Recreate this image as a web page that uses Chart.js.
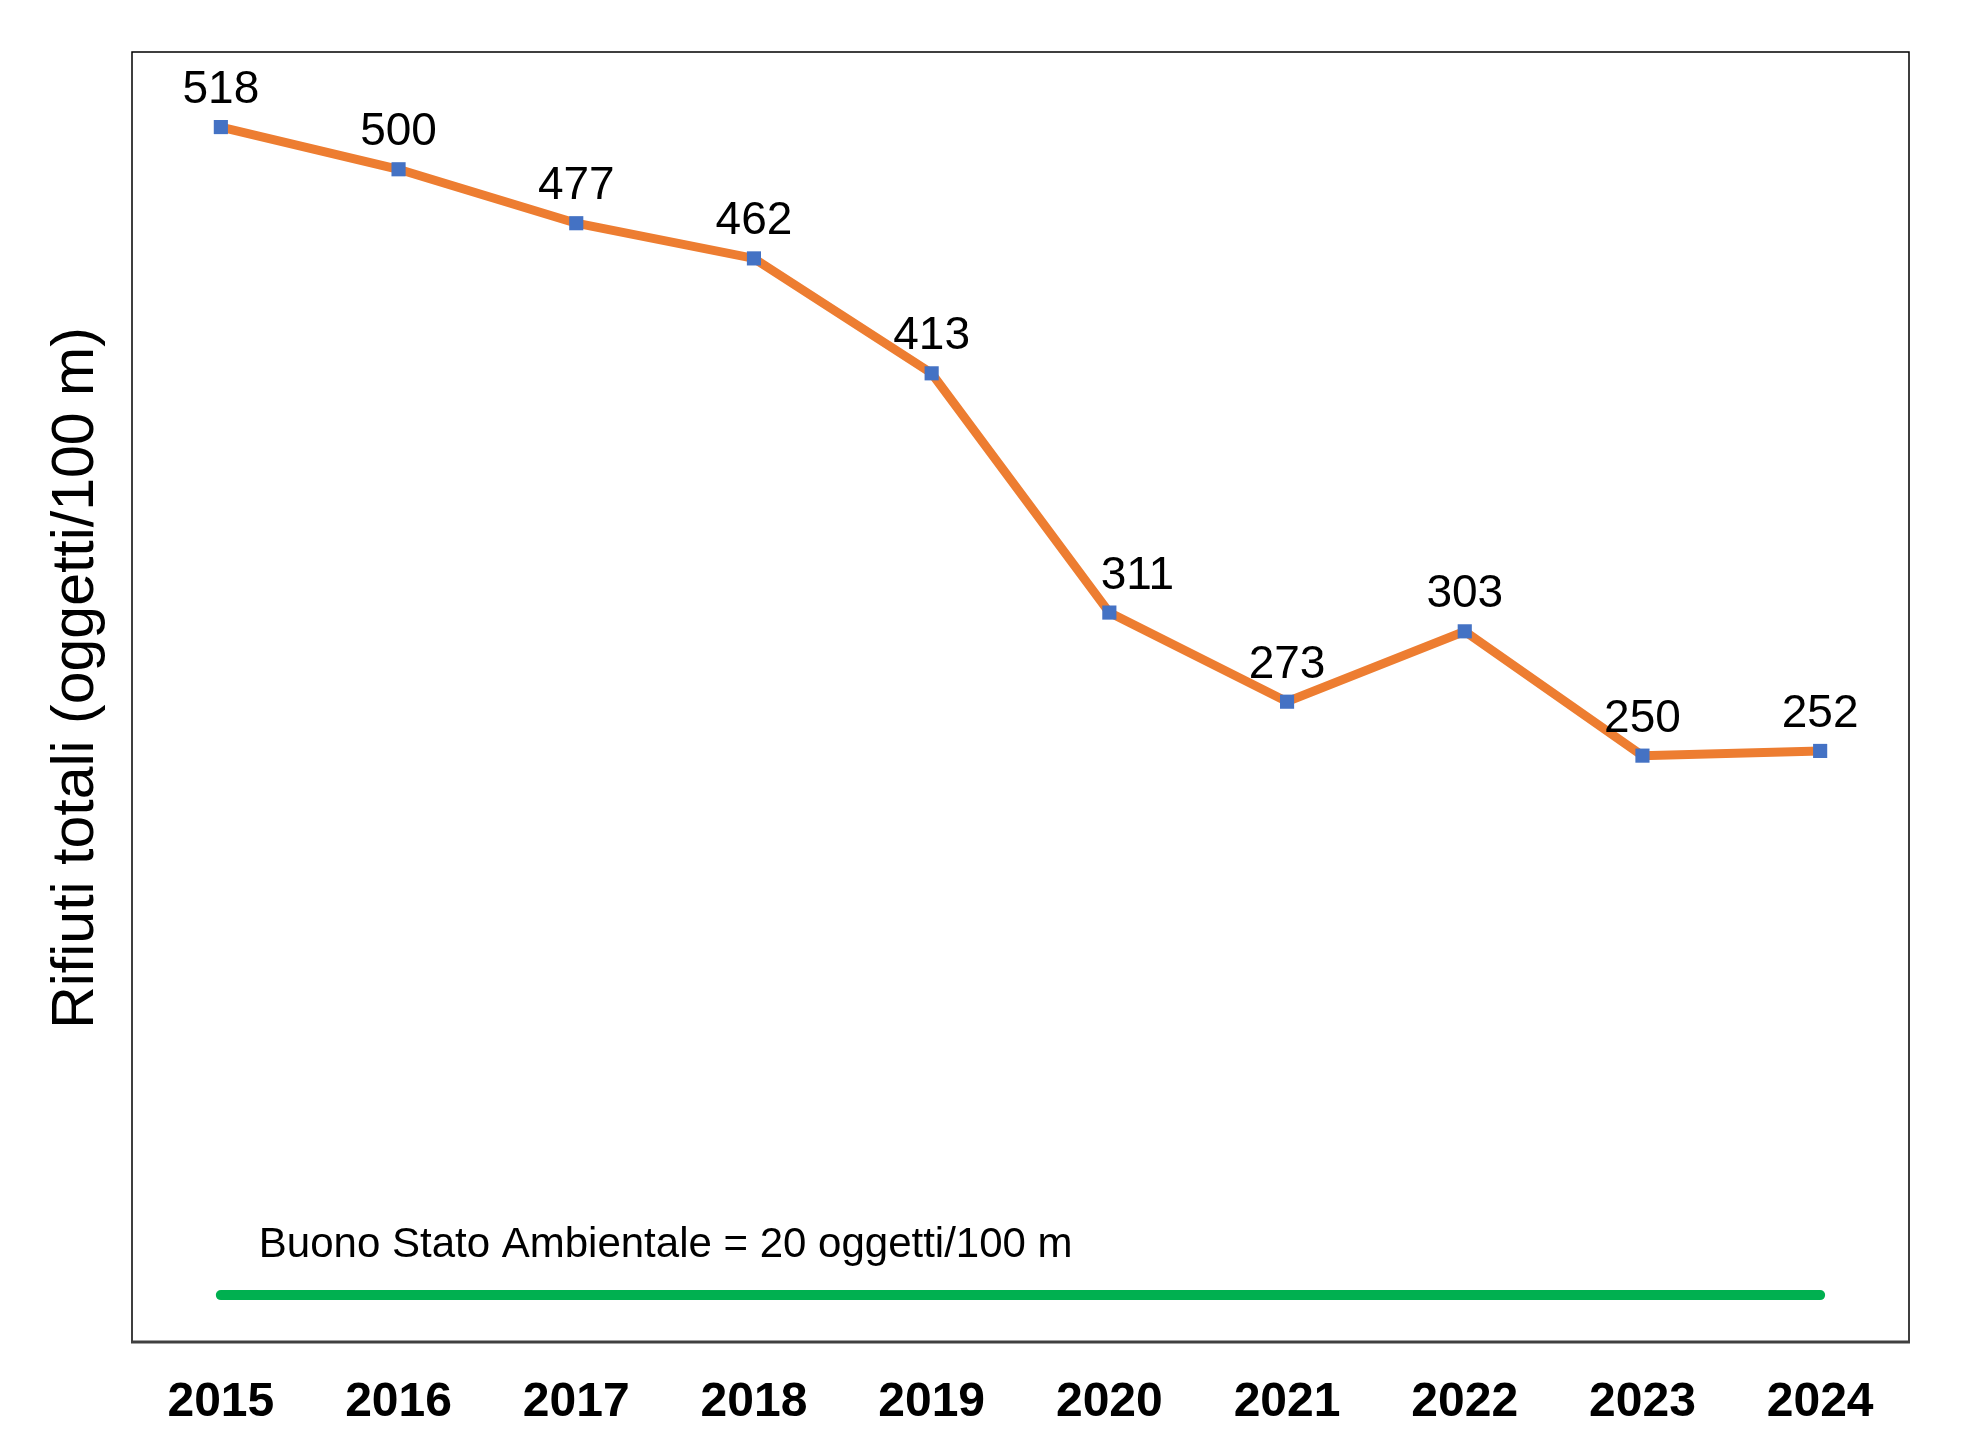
<!DOCTYPE html>
<html>
<head>
<meta charset="utf-8">
<script src="https://cdn.jsdelivr.net/npm/chart.js@4"></script>
<style>
  body { margin: 0; background: #fff; }
  canvas { display: block; }
</style>
</head>
<body>
<canvas id="chart" width="1969" height="1455"></canvas>
<script>
// data
const years = ['2015', '2016', '2017', '2018', '2019', '2020', '2021', '2022', '2023', '2024'];
const rifiuti = [518, 500, 477, 462, 413, 311, 273, 303, 250, 252];
const buonoStato = [20, 20, 20, 20, 20, 20, 20, 20, 20, 20];
const yTitle = 'Rifiuti totali (oggetti/100 m)';
const noteText = 'Buono Stato Ambientale = 20 oggetti/100 m';

const FONT = '"Liberation Sans", Arial, sans-serif';

// value labels above the points, axis title, note and the frame
const extras = {
  id: 'extras',
  afterDatasetsDraw(chart) {
    const ctx = chart.ctx;
    const meta = chart.getDatasetMeta(0);
    ctx.save();
    ctx.fillStyle = '#000';
    ctx.font = '46px ' + FONT;
    ctx.textAlign = 'center';
    ctx.textBaseline = 'alphabetic';
    meta.data.forEach((pt, i) => {
      // the 2020 label sits a bit to the right of its point in the original
      const dx = i === 5 ? 28 : 0;
      ctx.fillText(String(rifiuti[i]), pt.x + dx, pt.y - 24);
    });

    // note above the green line
    const xs = chart.scales.x, ys = chart.scales.y;
    ctx.font = '42px ' + FONT;
    ctx.textAlign = 'left';
    ctx.fillText(noteText, xs.getPixelForValue(0) + 38, ys.getPixelForValue(20) - 38);

    // y axis title
    ctx.font = '59px ' + FONT;
    ctx.textAlign = 'center';
    ctx.translate(93, 678);
    ctx.rotate(-Math.PI / 2);
    ctx.fillText(yTitle, 0, 0);
    ctx.restore();
  },
  afterDraw(chart) {
    const a = chart.chartArea;
    const ctx = chart.ctx;
    ctx.save();
    ctx.strokeStyle = '#000';
    ctx.lineWidth = 1.5;
    ctx.beginPath();
    ctx.moveTo(a.left, a.bottom);
    ctx.lineTo(a.left, a.top);
    ctx.lineTo(a.right, a.top);
    ctx.lineTo(a.right, a.bottom);
    ctx.stroke();
    ctx.strokeStyle = '#404040';
    ctx.lineWidth = 3;
    ctx.beginPath();
    ctx.moveTo(a.left - 1, a.bottom);
    ctx.lineTo(a.right + 1, a.bottom);
    ctx.stroke();
    ctx.restore();
  }
};

new Chart(document.getElementById('chart'), {
  type: 'line',
  data: {
    labels: years,
    datasets: [{
      label: 'Rifiuti totali',
      data: rifiuti,
      borderColor: '#ED7D31',
      borderWidth: 9,
      tension: 0,
      pointStyle: 'rect',
      pointRadius: 10,
      pointBackgroundColor: '#4472C4',
      pointBorderWidth: 0
    }, {
      label: 'Buono Stato Ambientale',
      data: buonoStato,
      borderColor: '#00B050',
      borderWidth: 10,
      borderCapStyle: 'round',
      pointRadius: 0,
      tension: 0
    }]
  },
  options: {
    responsive: false,
    devicePixelRatio: 1,
    animation: false,
    layout: { padding: { top: 52, right: 60, left: 0, bottom: 0 } },
    plugins: {
      legend: { display: false },
      tooltip: { enabled: false }
    },
    scales: {
      x: {
        offset: true,
        grid: { display: false, drawTicks: false },
        border: { display: false },
        ticks: {
          color: '#000',
          padding: 32,
          font: { family: FONT, size: 48, weight: 'bold' }
        },
        afterFit(scale) { scale.height = 113; }
      },
      y: {
        min: 0,
        max: 550,
        grid: { display: false, drawTicks: false },
        border: { display: false },
        ticks: { display: false },
        afterFit(scale) { scale.width = 132; }
      }
    }
  },
  plugins: [extras]
});
</script>
</body>
</html>
